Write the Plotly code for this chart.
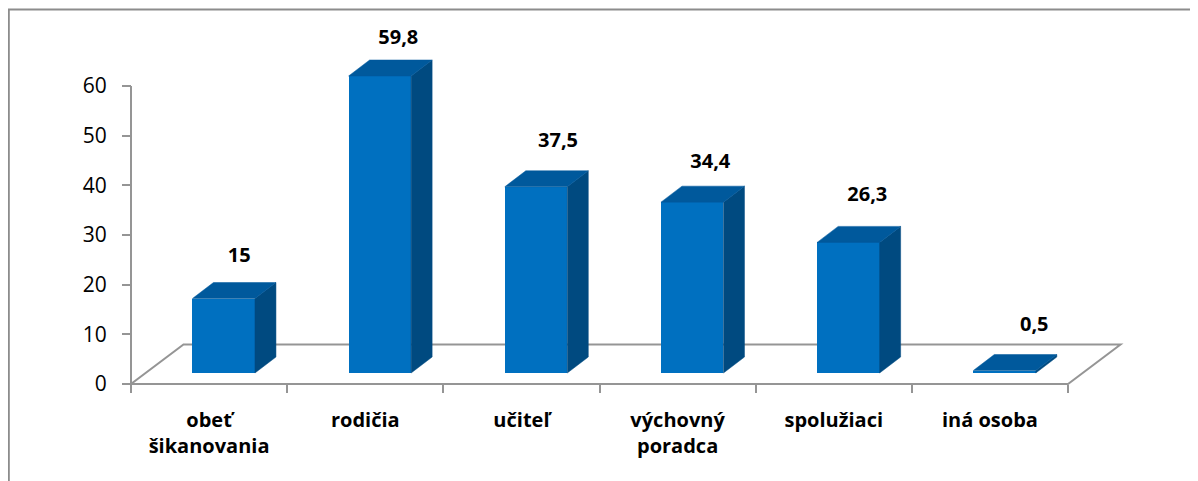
import plotly.graph_objects as go

# ---------------- data ----------------
categories = ["obeť<br>šikanovania", "rodičia", "učiteľ", "výchovný<br>poradca", "spolužiaci", "iná osoba"]
values = [15, 59.8, 37.5, 34.4, 26.3, 0.5]
y_tick_values = [0, 10, 20, 30, 40, 50, 60]
title_left = "Graf 23"
title_right = "Osoba, ktorá má šikanovanie riešiť"

# ---------------- geometry / style (pixels) ----------------
OFF = 8.0                  # page offset of the figure (default body margin)
W, H = 1198, 481
L, R, T, B = 115, 60, 30, 96
plot_w = W - L - R
plot_h = H - T - B
axis_x_px = 131.0 - OFF    # figure pixel x of the value axis
axis_y_px = 384.0 - OFF    # figure pixel y of value 0 (front floor edge)
px_per_cat = 156.17
px_per_unit = 4.9667

floor_dx_px, floor_dy_px = 52.5, 39.5
bar_lift_px = 11.0
bar_w_px = 62.5
depth_dx_px, depth_dy_px = 21.0, 16.0

# per-label offsets (px, screen direction) relative to front-top centre of each bar
label_dx_px = [15.6, 18.4, 22.0, 18.1, 18.9, 29.7]
label_dy_px = [-41.5, -37.0, -44.7, -39.0, -46.4, -44.5]

FRONT = "#0070C0"
SIDE = "#004A80"
TOP = "#00599C"
GRAY = "#959595"
FONT = "Open Sans"

# axis ranges derived from pixel layout
x0 = -0.5 - (axis_x_px - L) / px_per_cat
x1 = x0 + plot_w / px_per_cat
y0 = -((T + plot_h) - axis_y_px) / px_per_unit
y1 = y0 + plot_h / px_per_unit

n = len(values)
centers = list(range(n))
bounds = [i - 0.5 for i in range(n + 1)]

fdx = floor_dx_px / px_per_cat
fdy = floor_dy_px / px_per_unit
sy = bar_lift_px / px_per_unit
sx = bar_lift_px * (floor_dx_px / floor_dy_px) / px_per_cat
bw = bar_w_px / px_per_cat
ddx = depth_dx_px / px_per_cat
ddy = depth_dy_px / px_per_unit

fig = go.Figure()

# front faces
fig.add_trace(go.Bar(
    x=[c + sx for c in centers], y=values, base=[sy] * n, width=[bw] * n,
    marker=dict(color=FRONT, line=dict(width=0)), hoverinfo="skip", showlegend=False,
))

# side faces and top faces
side_x, side_y, top_x, top_y = [], [], [], []
for c, v in zip(centers, values):
    xl = c + sx - bw / 2
    xr = c + sx + bw / 2
    yb = sy
    yt = sy + v
    side_x += [xr, xr + ddx, xr + ddx, xr, xr, None]
    side_y += [yb, yb + ddy, yt + ddy, yt, yb, None]
    top_x += [xl, xr, xr + ddx, xl + ddx, xl, None]
    top_y += [yt, yt, yt + ddy, yt + ddy, yt, None]

fig.add_trace(go.Scatter(x=side_x, y=side_y, mode="lines", fill="toself", fillcolor=SIDE,
                         line=dict(color=SIDE, width=0.5), hoverinfo="skip", showlegend=False))
fig.add_trace(go.Scatter(x=top_x, y=top_y, mode="lines", fill="toself", fillcolor=TOP,
                         line=dict(color=TOP, width=0.5), hoverinfo="skip", showlegend=False))

# data labels
def fmt(v):
    return (str(int(v)) if float(v).is_integer() else str(v)).replace(".", ",")

lab_x = [c + sx + dx / px_per_cat for c, dx in zip(centers, label_dx_px)]
lab_y = [sy + v - dy / px_per_unit for v, dy in zip(values, label_dy_px)]
fig.add_trace(go.Scatter(x=lab_x, y=lab_y, mode="text", text=[fmt(v) for v in values],
                         textposition="middle center",
                         textfont=dict(family=FONT, size=20, color="black", weight="bold"),
                         cliponaxis=False, hoverinfo="skip", showlegend=False))

# dummy trace for tick-mark axis
fig.add_trace(go.Scatter(x=[bounds[0]], y=[0], xaxis="x2", mode="markers",
                         marker=dict(opacity=0), hoverinfo="skip", showlegend=False))

# floor + value axis line (behind bars)
floor_path = (f"M {bounds[0]} 0 L {bounds[-1]} 0 L {bounds[-1] + fdx} {fdy} "
              f"L {bounds[0] + fdx} {fdy} Z")
shapes = [
    dict(type="path", xref="x", yref="y", path=floor_path, layer="below",
         line=dict(color=GRAY, width=2)),
    dict(type="line", xref="x", yref="y", x0=bounds[0], x1=bounds[0], y0=0, y1=max(y_tick_values),
         layer="below", line=dict(color=GRAY, width=2)),
]

# outer frame (figure pixels -> paper)
def px2paper_x(px):
    return (px - L) / plot_w

def px2paper_y(py):
    return (T + plot_h - py) / plot_h

frame_x, frame_y = 0.8, 9.5 - OFF
shapes.append(dict(type="path", xref="paper", yref="paper",
                   path=(f"M {px2paper_x(frame_x)} {px2paper_y(H + 5)} "
                         f"L {px2paper_x(frame_x)} {px2paper_y(frame_y)} "
                         f"L {px2paper_x(W + 5)} {px2paper_y(frame_y)}"),
                   line=dict(color="#8C8C8C", width=2)))

title_bottom_px = 4.0 - OFF + 4.0
annotations = [
    dict(text=f"<b>{title_left}</b>", xref="paper", yref="paper", x=px2paper_x(18 - OFF),
         y=px2paper_y(title_bottom_px), xanchor="left", yanchor="bottom", showarrow=False,
         font=dict(family="Liberation Serif", size=17, color="black")),
    dict(text=f"<b><i>{title_right}</i></b>", xref="paper", yref="paper", x=px2paper_x(325 - OFF),
         y=px2paper_y(title_bottom_px), xanchor="left", yanchor="bottom", showarrow=False,
         font=dict(family="Liberation Serif", size=17, color="black")),
]

axis_pos_x = (T + plot_h - axis_y_px) / plot_h
axis_pos_y = (axis_x_px - L) / plot_w

fig.update_layout(
    width=W, height=H,
    margin=dict(l=L, r=R, t=T, b=B, pad=0),
    paper_bgcolor="white", plot_bgcolor="white",
    showlegend=False, bargap=0,
    shapes=shapes, annotations=annotations,
    xaxis=dict(range=[x0, x1], tickmode="array", tickvals=centers, ticktext=categories,
               ticks="", showgrid=False, zeroline=False, showline=False,
               anchor="free", position=axis_pos_x,
               ticklabelstandoff=22,
               tickfont=dict(family=FONT, size=20, color="black", weight="bold")),
    xaxis2=dict(range=[x0, x1], overlaying="x", matches="x", tickmode="array", tickvals=bounds,
                ticktext=[""] * len(bounds), ticks="outside", ticklen=8, tickwidth=1.5, tickcolor=GRAY,
                showgrid=False, zeroline=False, showline=False, side="bottom",
                anchor="free", position=axis_pos_x),
    yaxis=dict(range=[y0, y1], tickmode="array", tickvals=y_tick_values,
               ticks="outside", ticklen=9, tickwidth=1.5, tickcolor=GRAY,
               showgrid=False, zeroline=False, showline=False,
               anchor="free", position=axis_pos_y,
               ticklabelstandoff=11,
               tickfont=dict(family=FONT, size=21, color="black")),
)

fig.write_html("out.html")
